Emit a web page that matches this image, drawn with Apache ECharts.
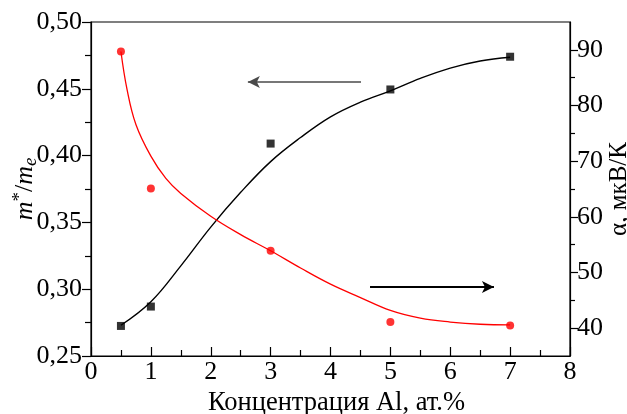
<!DOCTYPE html>
<html>
<head>
<meta charset="utf-8">
<script src="https://cdn.jsdelivr.net/npm/echarts@6/dist/echarts.min.js"></script>
<style>
html,body{margin:0;padding:0;background:#fff;}
#chart{width:627px;height:414px;}
</style>
</head>
<body>
<div id="chart"></div>
<script>
// Measured data (Al concentration, at.%)
const concentration = [0.5, 1, 3, 5, 7];
const massRatio = [0.2725, 0.287, 0.409, 0.4495, 0.474];   // m*/me, left axis
const seebeck = [89.7, 65.1, 53.9, 41.1, 40.5];             // α, мкВ/К, right axis

// Guide curves
const massFitX = [0.5, 1.0, 1.5, 2.0, 2.5, 3.0, 3.5, 4.0, 4.5, 5.0, 5.5, 6.0, 6.5, 7.0];
const massFitY = [0.273, 0.2906, 0.3175, 0.3465, 0.3725, 0.3955, 0.4135, 0.429, 0.440, 0.4485, 0.4578, 0.4655, 0.4708, 0.4736];
const seebeckFitX = [0.5, 0.6, 0.75, 1.0, 1.25, 1.5, 2.0, 2.5, 3.0, 3.5, 4.0, 4.5, 5.0, 5.5, 6.0, 6.5, 7.0];
const seebeckFitY = [89.7, 83.0, 76.6, 70.9, 66.9, 64.2, 60.1, 56.8, 53.9, 50.8, 47.9, 45.5, 43.2, 41.8, 41.1, 40.7, 40.6];

// Axis ticks
const xTicks = [0, 1, 2, 3, 4, 5, 6, 7, 8];
const leftTicks = [0.25, 0.30, 0.35, 0.40, 0.45, 0.50];
const rightTicks = [40, 50, 60, 70, 80, 90];
const rightMinorTicks = [45, 55, 65, 75, 85];

// Arrows (pointing to the axis each curve belongs to)
const leftArrow = {x: [4.51, 2.62], y: 0.455};
const rightArrow = {x: [4.66, 6.73], y: 47.4};

const zip = (xs, ys) => xs.map((x, i) => [x, ys[i]]);
const FONT = 'Liberation Serif';

const chart = echarts.init(document.getElementById('chart'), null, {renderer: 'canvas'});
chart.setOption({
  animation: false,
  backgroundColor: '#fff',
  textStyle: {fontFamily: FONT, color: '#000'},
  grid: {left: 91, right: 57, top: 22, bottom: 58, show: true, borderColor: '#000', borderWidth: 1.2,
    containLabel: false, outerBoundsMode: 'none'},
  xAxis: {
    type: 'value', min: xTicks[0], max: xTicks[xTicks.length - 1], interval: 1,
    name: 'Концентрация Al, ат.%', nameLocation: 'middle', nameGap: 29,
    nameTextStyle: {fontFamily: FONT, fontSize: 26.5, color: '#000', padding: [0, 0, 0, 12]},
    axisLine: {lineStyle: {color: '#000', width: 1.2}},
    axisTick: {inside: true, length: 9, lineStyle: {color: '#000', width: 1.2}},
    minorTick: {show: true, splitNumber: 2, length: 6, lineStyle: {color: '#000', width: 1.2}},
    axisLabel: {fontFamily: FONT, fontSize: 26, color: '#000', margin: 3},
    splitLine: {show: false}
  },
  yAxis: [
    {
      type: 'value', position: 'left', min: leftTicks[0], max: leftTicks[leftTicks.length - 1], interval: 0.05,
      name: '{m|m}{sup|*}{sl|/}{m|m}{sub|e}', nameLocation: 'middle', nameGap: 51, nameRotate: 90,
      nameMoveOverlap: false,
      nameTextStyle: {
        fontFamily: FONT, color: '#000',
        rich: {
          m: {fontFamily: FONT, fontStyle: 'italic', fontSize: 26, color: '#000'},
          sup: {fontFamily: FONT, fontSize: 19, color: '#000', verticalAlign: 'top', padding: [0, 0, 10, 0]},
          sl: {fontFamily: FONT, fontSize: 26, color: '#000'},
          sub: {fontFamily: FONT, fontStyle: 'italic', fontSize: 19, color: '#000', verticalAlign: 'bottom', padding: [8, 0, 0, 0]}
        }
      },
      axisLine: {show: true, lineStyle: {color: '#000', width: 1.2}},
      axisTick: {inside: false, length: 9, lineStyle: {color: '#000', width: 1.2}},
      minorTick: {show: true, splitNumber: 2, length: 6, lineStyle: {color: '#000', width: 1.2}},
      axisLabel: {fontFamily: FONT, fontSize: 26, color: '#000', margin: 9,
        formatter: v => v.toFixed(2).replace('.', ',')},
      splitLine: {show: false}
    },
    {
      type: 'value', position: 'right', min: 35, max: 95, interval: 5,
      name: 'α, мкВ/К', nameLocation: 'middle', nameGap: 37, nameRotate: 90,
      nameMoveOverlap: false,
      nameTextStyle: {fontFamily: FONT, fontSize: 25, color: '#000'},
      axisLine: {show: true, lineStyle: {color: '#000', width: 1.2}},
      axisTick: {inside: false, length: 8, customValues: rightTicks, lineStyle: {color: '#000', width: 1.2}},
      axisLabel: {fontFamily: FONT, fontSize: 26, color: '#000', margin: 7, customValues: rightTicks},
      splitLine: {show: false}
    },
    {
      type: 'value', position: 'right', min: 35, max: 95, interval: 5,
      axisLine: {show: false},
      axisTick: {inside: false, length: 5, customValues: rightMinorTicks, lineStyle: {color: '#000', width: 1.2}},
      axisLabel: {show: false},
      splitLine: {show: false}
    }
  ],
  series: [
    {
      type: 'line', yAxisIndex: 0, data: zip(massFitX, massFitY), smooth: 0.4,
      showSymbol: false, symbol: 'none', lineStyle: {color: '#000', width: 1.4}, silent: true,
      markLine: {
        silent: true, symbol: ['none', 'arrow'], symbolSize: [9, 12],
        label: {show: false},
        lineStyle: {color: '#4a4a4a', width: 1.6, type: 'solid'},
        data: [[{coord: [leftArrow.x[0], leftArrow.y]}, {coord: [leftArrow.x[1], leftArrow.y]}]]
      }
    },
    {
      type: 'line', yAxisIndex: 1, data: zip(seebeckFitX, seebeckFitY), smooth: 0.4,
      showSymbol: false, symbol: 'none', lineStyle: {color: '#ff0000', width: 1.3}, silent: true,
      markLine: {
        silent: true, symbol: ['none', 'arrow'], symbolSize: [9, 12],
        label: {show: false},
        lineStyle: {color: '#000', width: 2, type: 'solid'},
        data: [[{coord: [rightArrow.x[0], rightArrow.y]}, {coord: [rightArrow.x[1], rightArrow.y]}]]
      }
    },
    {
      type: 'scatter', yAxisIndex: 0, data: zip(concentration, massRatio),
      symbol: 'rect', symbolSize: 8, itemStyle: {color: '#000'}, silent: true
    },
    {
      type: 'scatter', yAxisIndex: 1, data: zip(concentration, seebeck),
      symbol: 'circle', symbolSize: 8, itemStyle: {color: '#ff0000'}, silent: true
    }
  ]
});
</script>
</body>
</html>
